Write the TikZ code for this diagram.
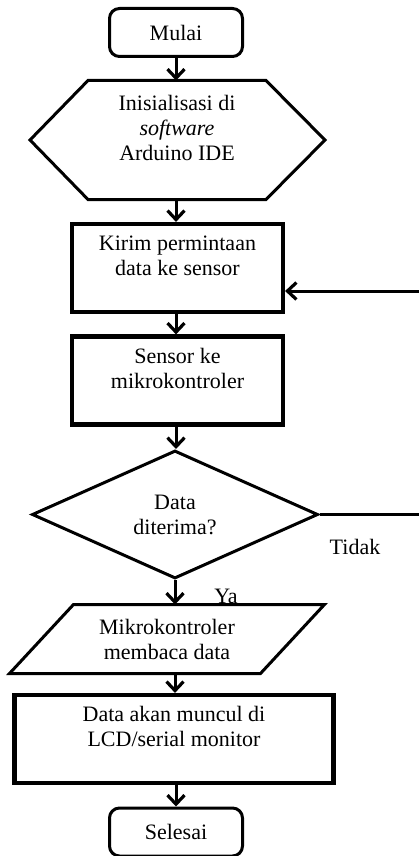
\documentclass[tikz,border=0pt]{standalone}
\usepackage{fontspec}
\setmainfont{Liberation Serif}
\usetikzlibrary{arrows.meta,shapes.geometric,calc}

\begin{document}
\begin{tikzpicture}[x=1pt,y=-1pt,>={Straight Barb[length=9pt,width=17pt,line width=3.2pt]},
  font=\fontsize{22}{25}\selectfont, line width=3pt,
  term/.style={draw,rounded corners=10pt,minimum width=133pt,minimum height=48pt},
  proc/.style={draw,line width=4.2pt,minimum width=211pt,minimum height=88pt,align=center},
  txt/.style={align=center,inner sep=0pt},
  arr/.style={->}]
	\useasboundingbox (0,0) rectangle (419,856);

		\node[term] (mulai) at (176,32.5) {Mulai};
		\node[txt,minimum width=175pt,minimum height=116pt] (init) at (177,140)
		  {Inisialisasi di\\\textit{software}\\Arduino IDE\\~};
		\draw (init.north west) -- (init.north east) -- ($(init.east)+(59,0)$)
		  -- (init.south east) -- (init.south west) -- ($(init.west)+(-58,0)$) -- cycle;

		\node[proc] (kirim) at (177.5,268) {Kirim permintaan\\data ke sensor\\~};
		\node[proc] (sensor) at (177.5,380.5) {Sensor ke\\mikrokontroler\\~};

		\node[diamond,draw,txt,minimum width=286pt,minimum height=128pt] (cek) at (175,514.5)
		  {Data\\diterima?};

		\node[txt,minimum width=248pt,minimum height=66pt] (baca) at (167,639)
		  {Mikrokontroler\\membaca data};
		\draw ($(baca.north west)+(32,0)$) -- ($(baca.north east)+(32,0)$)
		  -- ($(baca.south east)+(-32,0)$) -- ($(baca.south west)+(-32,0)$) -- cycle;

		\node[proc,minimum width=319pt] (tampil) at (174,739)
		  {Data akan muncul di\\LCD/serial monitor\\~};
		\node[term] (selesai) at (176,832) {Selesai};

		\node (tidak) at (355,547) {Tidak};
		\node (ya) at (226,596) {Ya};

		% alur utama
		\draw[arr] (mulai) -- (mulai |- init.north);
		\draw[arr] (mulai |- init.south) -- (mulai |- kirim.north);
		\draw[arr] (mulai |- kirim.south) -- (mulai |- sensor.north);
		\draw[arr] (mulai |- sensor.south) -- (mulai |- cek.north);
		\draw[arr] (cek.south) -- (cek.south |- baca.north);
		\draw[arr] (cek.south |- baca.south) -- (cek.south |- tampil.north);
		\draw[arr] (mulai |- tampil.south) -- (selesai);

		% kembali jika tidak
		\coordinate (kanan) at (419,291);
		\draw (cek.east) -- (cek.east -| kanan);
		\draw[arr] (kanan) -- (kanan -| kirim.east);

\end{tikzpicture}
\end{document}
